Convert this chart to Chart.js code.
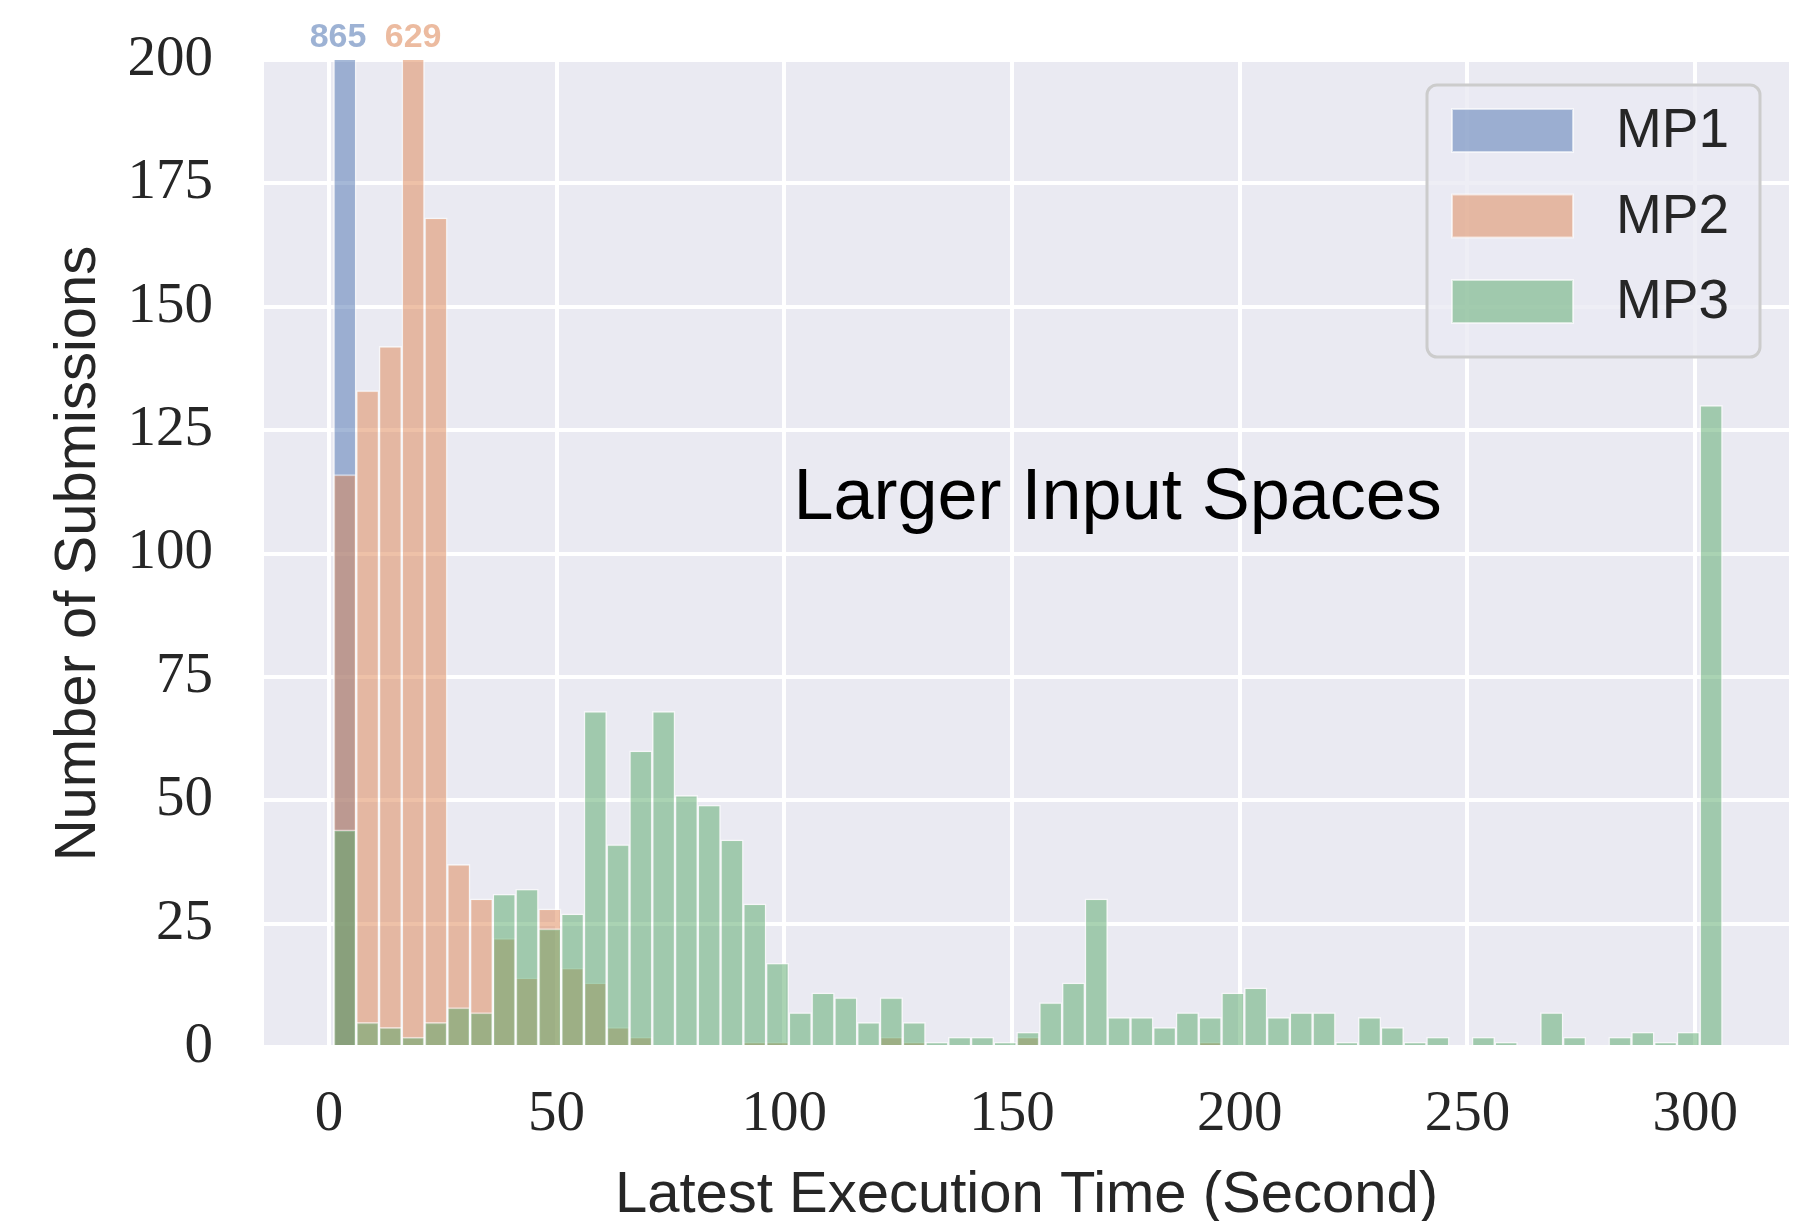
<!DOCTYPE html>
<html>
<head>
<meta charset="utf-8">
<title>Latest Execution Time</title>
<script src="https://cdn.jsdelivr.net/npm/chart.js@4.4.1/dist/chart.umd.min.js"></script>
<style>
    html, body { margin: 0; padding: 0; background: #ffffff; }
    #contenedor { width: 1803px; height: 1221px; }
</style>
</head>
<body>
<div id="contenedor"><canvas id="grafica"></canvas></div>
<script>
/* 1. DATOS DEL HISTOGRAMA */
// Primer borde de bin y ancho de bin (segundos).
const binStart = 1;
const binWidth = 5;

// Conteos por bin.
const mp1Counts = [
    865, 0, 0, 0, 0, 0, 0, 0, 0, 0,
    0, 0, 0, 0, 0, 0, 0, 0, 0, 0,
    0, 0, 0, 0, 0, 0, 0, 0, 0, 0,
    0, 0, 0, 0, 0, 0, 0, 0, 0, 0,
    0, 0, 0, 0, 0, 0, 0, 0, 0, 0,
    0, 0, 0, 0, 0, 0, 0, 0, 0, 0,
    0
];
const mp2Counts = [
    116, 133, 142, 629, 168, 37, 30, 22, 14, 28,
    16, 13, 4, 2, 0, 0, 0, 0, 1, 1,
    0, 0, 0, 0, 2, 1, 0, 0, 0, 0,
    2, 0, 0, 0, 0, 0, 0, 0, 1, 0,
    0, 0, 0, 0, 0, 0, 0, 0, 0, 0,
    0, 0, 0, 0, 0, 0, 0, 0, 0, 0,
    0
];
const mp3Counts = [
    44, 5, 4, 2, 5, 8, 7, 31, 32, 24,
    27, 68, 41, 60, 68, 51, 49, 42, 29, 17,
    7, 11, 10, 5, 10, 5, 1, 2, 2, 1,
    3, 9, 13, 30, 6, 6, 4, 7, 6, 11,
    12, 6, 7, 7, 1, 6, 4, 1, 2, 0,
    2, 1, 0, 7, 2, 0, 2, 3, 1, 3,
    130
];

const seriesNames = ['MP1', 'MP2', 'MP3'];
const seriesCounts = [mp1Counts, mp2Counts, mp3Counts];
// Colores base (seaborn deep) en formato r, g, b.
const seriesRgb = ['76, 114, 176', '221, 132, 82', '85, 168, 104'];

// Marcas de los ejes.
const xTicks = [0, 50, 100, 150, 200, 250, 300];
const yTicks = [0, 25, 50, 75, 100, 125, 150, 175, 200];

// Picos que se salen del eje: serie y posicion x del texto.
const peakSeries = [0, 1];
const peakBins = [0, 3];
const peakLabelX = [2, 18.5];

// Texto dentro del grafico y su anclaje en datos.
const noteText = 'Larger Input Spaces';
const noteX = 102;
const noteY = 107;

/* 2. PLUGINS DE DIBUJO */
const TEXT_DARK = '#262626';

// Fondo gris azulado del area de trazado.
const plotBackground = {
    id: 'plotBackground',
    beforeDraw(chart) {
        const { ctx, chartArea: a } = chart;
        ctx.save();
        ctx.fillStyle = '#eaeaf2';
        ctx.fillRect(a.left, a.top, a.right - a.left, a.bottom - a.top);
        ctx.restore();
    }
};

// Leyenda dentro del area, estilo matplotlib.
const insideLegend = {
    id: 'insideLegend',
    afterDraw(chart) {
        const { ctx, chartArea: a } = chart;
        const w = 333, h = 272;
        const left = a.right - 29 - w;
        const top = a.top + 25;
        ctx.save();
        ctx.beginPath();
        ctx.roundRect(left, top, w, h, 10);
        ctx.fillStyle = 'rgba(234, 234, 242, 0.8)';
        ctx.fill();
        ctx.lineWidth = 3;
        ctx.strokeStyle = '#cccccc';
        ctx.stroke();

        ctx.font = '55px "Liberation Sans"';
        ctx.textBaseline = 'middle';
        ctx.textAlign = 'left';
        seriesNames.forEach((name, i) => {
            const cy = top + 45 + i * 85.5;
            ctx.fillStyle = `rgba(${seriesRgb[i]}, 0.5)`;
            ctx.fillRect(left + 25, cy - 21, 121, 43);
            ctx.strokeStyle = 'rgba(255, 255, 255, 0.6)';
            ctx.lineWidth = 2;
            ctx.strokeRect(left + 25, cy - 21, 121, 43);
            ctx.fillStyle = TEXT_DARK;
            ctx.fillText(name, left + 189, cy + 2);
        });
        ctx.restore();
    }
};

// Etiquetas de los picos recortados y anotacion del centro.
const annotations = {
    id: 'annotations',
    afterDraw(chart) {
        const { ctx, chartArea: a, scales } = chart;
        ctx.save();
        ctx.font = 'bold 34px "Liberation Sans"';
        ctx.textAlign = 'center';
        ctx.textBaseline = 'alphabetic';
        peakSeries.forEach((s, i) => {
            ctx.fillStyle = `rgba(${seriesRgb[s]}, 0.55)`;
            const value = seriesCounts[s][peakBins[i]];
            ctx.fillText(String(value), scales.x.getPixelForValue(peakLabelX[i]), a.top - 13);
        });

        ctx.font = '72px "Liberation Sans"';
        ctx.textAlign = 'left';
        ctx.fillStyle = '#000000';
        ctx.fillText(noteText, scales.x.getPixelForValue(noteX), scales.y.getPixelForValue(noteY));
        ctx.restore();
    }
};

/* 3. GRAFICA */
document.addEventListener('DOMContentLoaded', () => {
    const datasets = seriesCounts.map((counts, i) => ({
        label: seriesNames[i],
        data: counts.map((c, k) => ({ x: binStart + binWidth * (k + 0.5), y: c })),
        backgroundColor: `rgba(${seriesRgb[i]}, 0.5)`,
        borderColor: 'rgba(255, 255, 255, 0.55)',
        borderWidth: 1.5,
        grouped: false,
        barPercentage: 1,
        categoryPercentage: 1,
        order: seriesNames.length - 1 - i
    }));

    new Chart(document.getElementById('grafica'), {
        type: 'bar',
        data: { datasets },
        options: {
            responsive: true,
            maintainAspectRatio: false,
            devicePixelRatio: 1,
            animation: false,
            layout: { padding: { top: 60, right: 14, left: 0, bottom: 0 } },
            plugins: {
                legend: { display: false },
                tooltip: { enabled: false }
            },
            scales: {
                x: {
                    type: 'linear',
                    min: -14.25,
                    max: 320.6,
                    offset: false,
                    afterBuildTicks: axis => { axis.ticks = xTicks.map(v => ({ value: v })); },
                    afterFit: axis => {
                        axis.height = 174;
                        axis.paddingLeft = 0;
                        axis.paddingRight = 0;
                    },
                    ticks: {
                        font: { family: 'Liberation Serif', size: 57 },
                        color: TEXT_DARK,
                        padding: 34,
                        maxRotation: 0,
                        autoSkip: false
                    },
                    grid: { color: '#ffffff', lineWidth: 4, drawTicks: false, offset: false },
                    border: { display: false },
                    title: {
                        display: true,
                        text: 'Latest Execution Time (Second)',
                        font: { family: 'Liberation Sans', size: 58, lineHeight: 0.8 },
                        color: TEXT_DARK,
                        padding: { top: 0, bottom: 2 }
                    }
                },
                y: {
                    min: 0,
                    max: 200,
                    afterBuildTicks: axis => { axis.ticks = yTicks.map(v => ({ value: v })); },
                    afterFit: axis => {
                        axis.width = 264;
                        // El padding de las etiquetas no debe empujar el area hacia abajo
                        axis.paddingTop = 0;
                        axis.paddingBottom = 0;
                    },
                    ticks: {
                        font: { family: 'Liberation Serif', size: 57 },
                        color: TEXT_DARK,
                        padding: 51
                    },
                    grid: { color: '#ffffff', lineWidth: 4, drawTicks: false },
                    border: { display: false },
                    title: {
                        display: true,
                        text: 'Number of Submissions',
                        font: { family: 'Liberation Sans', size: 58, lineHeight: 1 },
                        color: TEXT_DARK,
                        padding: { top: 50, bottom: 0 }
                    }
                }
            }
        },
        plugins: [plotBackground, insideLegend, annotations]
    });
});
</script>
</body>
</html>
